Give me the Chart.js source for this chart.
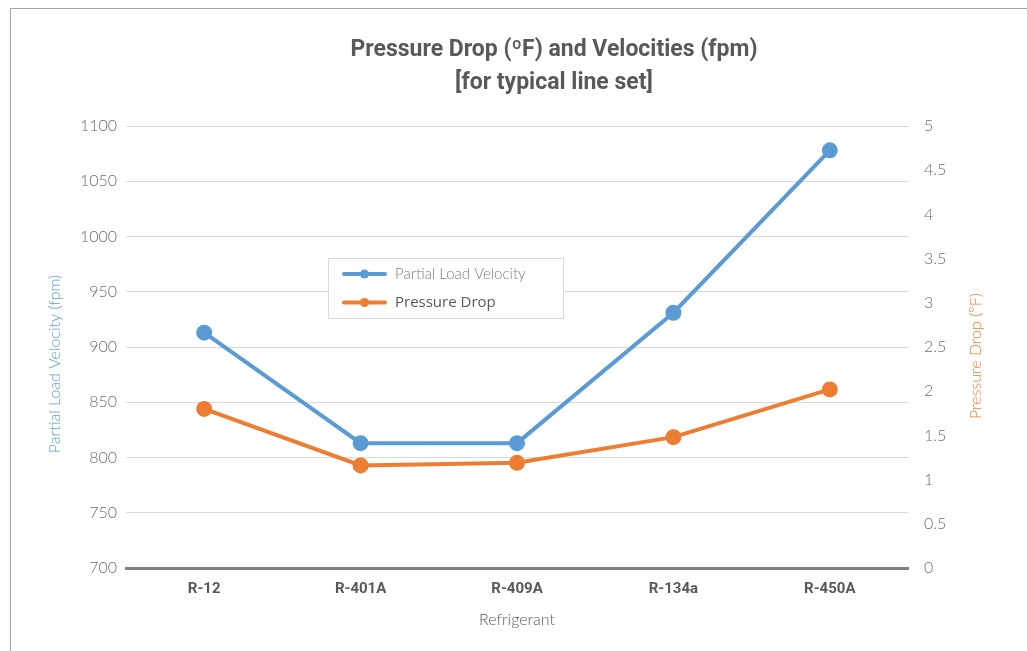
<!DOCTYPE html>
<html>
<head>
<meta charset="utf-8">
<script src="https://cdn.jsdelivr.net/npm/chart.js@4.4.1/dist/chart.umd.min.js"></script>
<style>
  html, body { margin: 0; padding: 0; background: #fff; }
  #wrap { position: relative; width: 1027px; height: 651px; }
  #frame { position: absolute; left: 10px; top: 8px; right: 0; bottom: 0;
           border-top: 1px solid #a6a6a6; border-left: 1px solid #a6a6a6; }
  canvas { position: absolute; left: 0; top: 0; }
</style>
</head>
<body>
<div id="wrap">
  <div id="frame"></div>
  <canvas id="chart" width="1027" height="651"></canvas>
</div>
<script>
// data
const categories = ['R-12', 'R-401A', 'R-409A', 'R-134a', 'R-450A'];
const velocity = [913, 813, 813, 931, 1078];
const pressureDrop = [1.8, 1.16, 1.19, 1.48, 2.02];
const velocityTicks = [700, 750, 800, 850, 900, 950, 1000, 1050, 1100];
const pressureTicks = [0, 0.5, 1, 1.5, 2, 2.5, 3, 3.5, 4, 4.5, 5];

const titleLines = ['Pressure Drop (\u00baF) and Velocities (fpm)', '[for typical line set]'];
const xTitle = 'Refrigerant';
const leftTitle = 'Partial Load Velocity (fpm)';
const rightTitle = 'Pressure Drop (\u00baF)';

const BLUE = '#5b9bd5';
const ORANGE = '#ed7d31';
const GREY = '#595959';

// chart title, axis titles + legend box drawn by hand (excel-like placement)
const extras = {
  id: 'extras',
  afterDraw(chart) {
    const ctx = chart.ctx;
    ctx.save();
    ctx.textAlign = 'center';
    ctx.textBaseline = 'middle';

    // title, centred a bit right of the canvas centre like the original
    ctx.font = 'bold 23px Roboto';
    ctx.fillStyle = GREY;
    titleLines.forEach((t, i) => ctx.fillText(t, 554, 50 + i * 33));

    ctx.font = '300 16px Lato';
    ctx.save();
    ctx.fillStyle = BLUE;
    ctx.translate(55, 364);
    ctx.rotate(-Math.PI / 2);
    ctx.fillText(leftTitle, 0, 0);
    ctx.restore();

    ctx.save();
    ctx.fillStyle = ORANGE;
    ctx.translate(976, 356);
    ctx.rotate(-Math.PI / 2);
    ctx.fillText(rightTitle, 0, 0);
    ctx.restore();

    // legend
    ctx.fillStyle = '#fff';
    ctx.fillRect(328, 258, 235, 60);
    ctx.strokeStyle = '#d9d9d9';
    ctx.lineWidth = 1;
    ctx.strokeRect(328.5, 258.5, 235, 60);

    const fonts = ['300 15px Lato', '15px "Open Sans"'];
    const textColors = ['#7f7f7f', GREY];
    chart.data.datasets.forEach((ds, i) => {
      const y = 274 + i * 28.5;
      ctx.strokeStyle = ds.borderColor;
      ctx.lineWidth = 4;
      ctx.lineCap = 'round';
      ctx.beginPath();
      ctx.moveTo(344, y);
      ctx.lineTo(385, y);
      ctx.stroke();
      ctx.fillStyle = ds.borderColor;
      ctx.beginPath();
      ctx.arc(364.5, y, 4.5, 0, Math.PI * 2);
      ctx.fill();
      ctx.font = fonts[i];
      ctx.fillStyle = textColors[i];
      ctx.textAlign = 'left';
      ctx.fillText(ds.label, 395, y);
    });
    ctx.restore();
  }
};

new Chart(document.getElementById('chart'), {
  type: 'line',
  data: {
    labels: categories,
    datasets: [
      {
        label: 'Partial Load Velocity',
        data: velocity,
        yAxisID: 'yV',
        borderColor: BLUE,
        backgroundColor: BLUE,
        borderWidth: 4,
        pointRadius: 6,
        pointHoverRadius: 6,
        tension: 0
      },
      {
        label: 'Pressure Drop',
        data: pressureDrop,
        yAxisID: 'yP',
        borderColor: ORANGE,
        backgroundColor: ORANGE,
        borderWidth: 4,
        pointRadius: 6,
        pointHoverRadius: 6,
        tension: 0
      }
    ]
  },
  options: {
    responsive: false,
    devicePixelRatio: 1,
    animation: false,
    layout: { padding: { top: 126 } },
    plugins: {
      legend: { display: false },
      tooltip: { enabled: false },
      title: { display: false }
    },
    scales: {
      x: {
        offset: true,
        grid: { display: false, drawTicks: false, offset: true },
        border: { display: true, color: '#808080', width: 3 },
        ticks: {
          color: GREY,
          padding: 12,
          font: { family: 'Roboto, sans-serif', size: 15, weight: 'bold' }
        },
        title: {
          display: true,
          text: xTitle,
          color: GREY,
          font: { family: 'Lato', size: 16, weight: '300' },
          padding: { top: 0, bottom: 22 }
        },
        afterFit(scale) { scale.height = 83; }
      },
      yV: {
        position: 'left',
        min: velocityTicks[0],
        max: velocityTicks[velocityTicks.length - 1],
        afterBuildTicks(scale) { scale.ticks = velocityTicks.map(v => ({ value: v })); },
        grid: {
          drawTicks: false,
          color: ctx => ctx.tick && ctx.tick.value === velocityTicks[0] ? 'rgba(0,0,0,0)' : '#d9d9d9',
          lineWidth: 1
        },
        border: { display: false },
        ticks: {
          color: '#6d6d6d',
          padding: 9,
          font: { family: 'Lato', size: 16, weight: '300' },
          callback: v => String(v)
        },
        afterFit(scale) { scale.width = 126; }
      },
      yP: {
        position: 'right',
        min: pressureTicks[0],
        max: pressureTicks[pressureTicks.length - 1],
        afterBuildTicks(scale) { scale.ticks = pressureTicks.map(v => ({ value: v })); },
        grid: { display: false, drawTicks: false },
        border: { display: false },
        ticks: {
          color: '#6d6d6d',
          padding: 16,
          font: { family: 'Lato', size: 16, weight: '300' },
          callback: v => String(v)
        },
        afterFit(scale) { scale.width = 119; }
      }
    }
  },
  plugins: [extras]
});
</script>
</body>
</html>
